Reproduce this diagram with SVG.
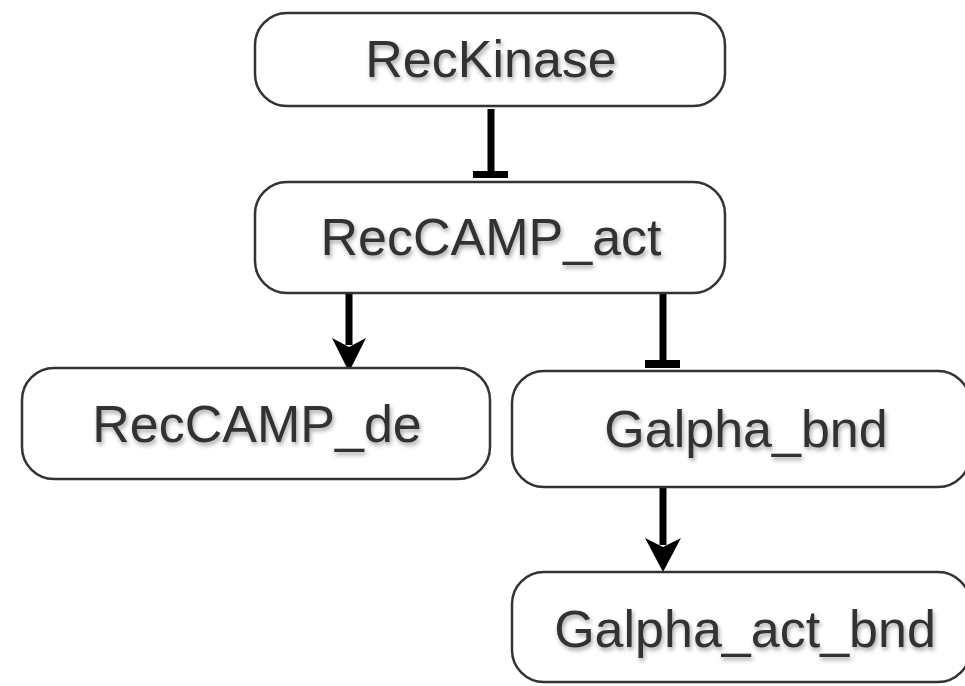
<svg xmlns="http://www.w3.org/2000/svg" width="965" height="686" viewBox="0 0 965 686">
<style>
.box{fill:#ffffff;stroke:#333333;stroke-width:2.5}
.lbl{font-family:"Liberation Sans",Arial,sans-serif;font-size:52px;fill:#333333;text-anchor:middle;filter:url(#sh)}
.edge{stroke:#000000;stroke-width:7;fill:none}
</style>
<defs>
<filter id="sh" x="-10%" y="-30%" width="120%" height="160%">
<feDropShadow dx="1.5" dy="3" stdDeviation="2" flood-color="#000000" flood-opacity="0.35"/>
</filter>
</defs>
<rect width="965" height="686" fill="#ffffff"/>
<g id="connectors">
<line class="edge" x1="491" y1="109" x2="491" y2="174"/>
<rect x="473" y="171" width="35" height="7" fill="#000"/>
<line class="edge" x1="349" y1="288" x2="349" y2="345"/>
<path d="M349,372 L332,338 L349,347 L366,338 Z" fill="#000"/>
<line class="edge" x1="663" y1="293" x2="663" y2="363"/>
<rect x="645" y="360" width="35" height="8" fill="#000"/>
<line class="edge" x1="663" y1="487" x2="663" y2="545"/>
<path d="M663,572 L645,538 L663,547 L681,538 Z" fill="#000"/>
</g>
<g id="RecKinase">
<rect class="box" x="255" y="13" width="470" height="93" rx="32"/>
<text class="lbl" x="491" y="77">RecKinase</text>
</g>
<g id="RecCAMP_act">
<rect class="box" x="255" y="182" width="470" height="111" rx="32"/>
<text class="lbl" x="491" y="255">RecCAMP_act</text>
</g>
<g id="RecCAMP_de">
<rect class="box" x="22" y="368" width="468" height="111" rx="32"/>
<text class="lbl" x="257" y="442">RecCAMP_de</text>
</g>
<g id="Galpha_bnd">
<rect class="box" x="512" y="371" width="458" height="116" rx="32"/>
<text class="lbl" x="746" y="447">Galpha_bnd</text>
</g>
<g id="Galpha_act_bnd">
<rect class="box" x="512" y="572" width="458" height="110" rx="32"/>
<text class="lbl" x="745" y="647">Galpha_act_bnd</text>
</g>
</svg>
